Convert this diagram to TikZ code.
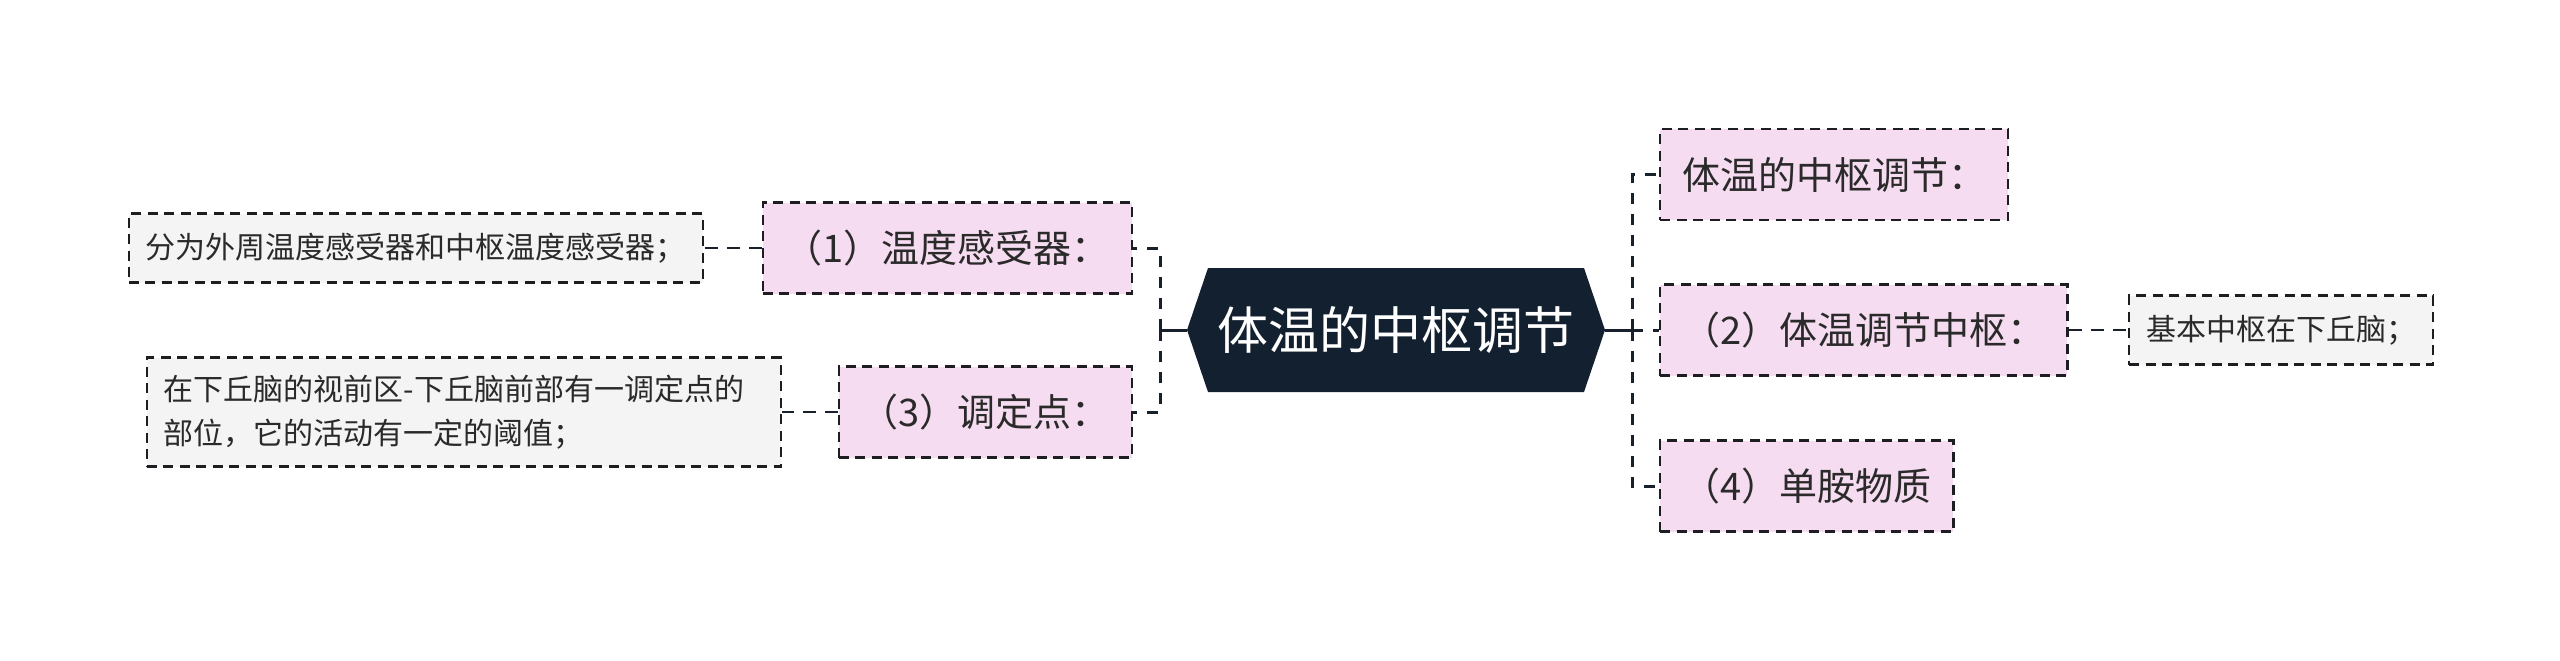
\documentclass[tikz,border=0pt]{standalone}
\usepackage{fontspec}
\newfontfamily\cjk{Noto Sans CJK SC}

\definecolor{rootfill}{HTML}{132030}
\definecolor{linecol}{HTML}{18202B}
\definecolor{boxline}{HTML}{1E1E22}
\definecolor{pinkfill}{HTML}{F6DCF0}
\definecolor{leaffill}{HTML}{F4F4F4}
\definecolor{textcol}{HTML}{2A2A2A}

\begin{document}
\begin{tikzpicture}[x = 1pt, y = -1pt,
    topic/.style = {draw = boxline, line width = 2.4pt, dash pattern = on 10pt off 6.5pt,
      fill = pinkfill, text = textcol, inner xsep = 22pt, inner ysep = 0pt,
      minimum height = 91pt, font = \cjk\fontsize{38pt}{46pt}\selectfont},
    leaf/.style = {draw = boxline, line width = 2.4pt, dash pattern = on 10pt off 6.5pt,
      fill = leaffill, text = textcol, inner xsep = 17pt, inner ysep = 0pt,
      minimum height = 69pt, font = \cjk\fontsize{30pt}{44pt}\selectfont},
    trunk/.style = {draw = linecol, line width = 3pt, dash pattern = on 11pt off 10pt},
    twig/.style = {draw = linecol, line width = 2.4pt, dash pattern = on 13pt off 9pt}]

    \useasboundingbox (0, 0) rectangle (2560, 661);

    \fill[rootfill]
      (1208, 268) -- (1584, 268) -- (1605, 330) -- (1584, 392)
      -- (1208, 392) -- (1187, 330) -- cycle;
    \node[text = white, inner sep = 0pt, minimum width = 418pt, minimum height = 124pt,
      font = \cjk\fontsize{51pt}{60pt}\selectfont]
      (root) at (1396, 330) {体温的中枢调节};

    \node[topic, anchor = west] (regulate) at (1659, 174.5) {体温的中枢调节：};
    \node[topic, anchor = west] (centre) at (1659, 330) {（2）体温调节中枢：};
    \node[topic, anchor = west] (amine) at (1659, 486) {（4）单胺物质};
    \node[topic, anchor = east] (sensor) at (1133, 248) {（1）温度感受器：};
    \node[topic, anchor = east] (setpoint) at (1133, 412) {（3）调定点：};

    \node[leaf, anchor = west] (centrenote) at (2128, 330) {基本中枢在下丘脑；};
    \node[leaf, anchor = east] (sensornote) at (704, 248) {分为外周温度感受器和中枢温度感受器；};
    \node[leaf, anchor = east, minimum height = 109pt, text width = 600pt, align = left]
      (setpointnote) at (782, 412)
      {在下丘脑的视前区-下丘脑前部有一调定点的\\部位，它的活动有一定的阈值；};

    \coordinate (rtrunk) at (1632, 330);
    \coordinate (ltrunk) at (1160, 330);

    \draw[draw = linecol, line width = 3pt] (root.east) -- (rtrunk);
    \draw[draw = linecol, line width = 3pt] (root.west) -- (ltrunk);
    \draw[trunk] (rtrunk) |- (regulate.west);
    \draw[trunk] (rtrunk) -- (centre.west);
    \draw[trunk] (rtrunk) |- (amine.west);
    \draw[trunk] (ltrunk) |- (sensor.east);
    \draw[trunk] (ltrunk) |- (setpoint.east);

    \draw[twig] (centre.east) -- (centrenote.west);
    \draw[twig] (sensor.west) -- (sensornote.east);
    \draw[twig] (setpoint.west) -- (setpointnote.east);
  \end{tikzpicture}
\end{document}
